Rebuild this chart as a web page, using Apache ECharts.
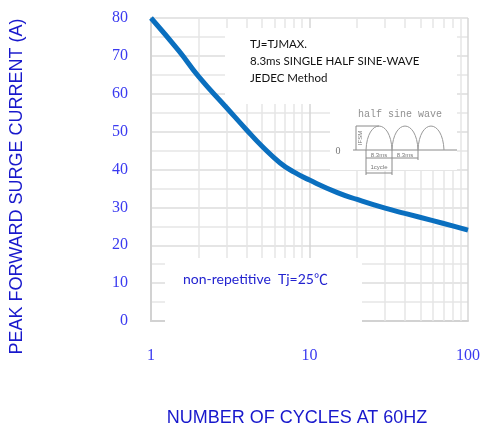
<!DOCTYPE html>
<html>
<head>
<meta charset="utf-8">
<script src="https://cdn.jsdelivr.net/npm/echarts@6/dist/echarts.min.js"></script>
<style>
  html,body{margin:0;padding:0;background:#fff;}
  #chart{width:483px;height:426px;}
</style>
</head>
<body>
<div id="chart"></div>
<script>
// cycles (log axis) and surge current
const cycles=[1,1.5,2,3,4,5,6.5,8,10,15,20,30,40,60,80,100]
const surgeCurrent=[80,71.3,64.5,56.3,50.5,46.2,41.8,39.3,37.2,33.9,32.1,29.8,28.4,26.5,25.1,24]
// minor log grid lines
const minorCycles=[2,3,4,5,6,7,8,9,20,30,40,50,60,70,80,90]

const chart=echarts.init(document.getElementById('chart'))

// inset "half sine wave" sketch
const inkColor='#8a8a8a'
const base=150, peak=126
const arches=[[366,392],[392,418],[418,444]]
const inset=[
  {type:'rect',shape:{x:225,y:28,width:232,height:76},style:{fill:'#fff'},z:2},
  {type:'rect',shape:{x:330,y:103,width:127,height:67},style:{fill:'#fff'},z:2},
  {type:'rect',shape:{x:165,y:258,width:197,height:65},style:{fill:'#fff'},z:2},
  {type:'text',x:250,y:36,z:11,style:{text:'TJ=TJMAX.\n8.3ms SINGLE HALF SINE-WAVE\nJEDEC Method',
    font:'11.5px Lato, "Liberation Sans", sans-serif',fill:'#111',lineHeight:17}},
  {type:'text',x:183,y:272,z:11,style:{text:'non-repetitive  Tj=25℃',
    font:'14px Lato, "Noto Sans CJK SC", sans-serif',fill:'#2323d0'}},
  {type:'text',x:400,y:114,z:11,style:{text:'half sine wave',align:'center',verticalAlign:'middle',
    font:'10px "Liberation Mono", "DejaVu Serif", serif',fill:'#909090'}},
  {type:'text',x:338,y:151,z:11,style:{text:'0',align:'center',verticalAlign:'middle',
    font:'10px "Liberation Serif", serif',fill:'#777'}},
  {type:'line',shape:{x1:353,y1:base,x2:457,y2:base},style:{stroke:inkColor,lineWidth:1},z:11},
  {type:'line',shape:{x1:356,y1:peak,x2:356,y2:base},style:{stroke:inkColor,lineWidth:1},z:11},
  {type:'line',shape:{x1:356,y1:peak,x2:379,y2:peak},style:{stroke:inkColor,lineWidth:1},z:11},
  {type:'text',x:360,y:138,rotation:Math.PI/2,z:11,style:{text:'IFSM',align:'center',verticalAlign:'middle',
    font:'6px "Liberation Sans", sans-serif',fill:'#777'}},
  {type:'line',shape:{x1:366,y1:base,x2:366,y2:175},style:{stroke:inkColor,lineWidth:1},z:11},
  {type:'line',shape:{x1:392,y1:base,x2:392,y2:175},style:{stroke:inkColor,lineWidth:1},z:11},
  {type:'line',shape:{x1:418,y1:base,x2:418,y2:160},style:{stroke:inkColor,lineWidth:1},z:11},
  {type:'line',shape:{x1:366,y1:158,x2:418,y2:158},style:{stroke:inkColor,lineWidth:1},z:11},
  {type:'text',x:379,y:155,z:11,style:{text:'8.3ms',align:'center',verticalAlign:'middle',
    font:'6px "Liberation Sans", sans-serif',fill:'#777'}},
  {type:'text',x:405,y:155,z:11,style:{text:'8.3ms',align:'center',verticalAlign:'middle',
    font:'6px "Liberation Sans", sans-serif',fill:'#777'}},
  {type:'line',shape:{x1:366,y1:173,x2:392,y2:173},style:{stroke:inkColor,lineWidth:1},z:11},
  {type:'text',x:379,y:167,z:11,style:{text:'1cycle',align:'center',verticalAlign:'middle',
    font:'6px "Liberation Sans", sans-serif',fill:'#777'}}
]
arches.forEach(a=>{
  const w=a[1]-a[0], h=base-peak
  inset.push({type:'bezierCurve',z:11,
    shape:{x1:a[0],y1:base,cpx1:a[0]+0.05*w,cpy1:base-1.33*h,cpx2:a[1]-0.05*w,cpy2:base-1.33*h,x2:a[1],y2:base},
    style:{stroke:'#999',lineWidth:1,fill:null}})
})

const option={
  animation:false,
  grid:{left:151,right:15,top:18,bottom:105,outerBoundsMode:'none',containLabel:false},
  xAxis:{
    type:'log',
    logBase:10,
    min:1,
    max:100,
    name:'NUMBER OF CYCLES AT 60HZ',
    nameLocation:'middle',
    nameGap:88,
    nameTextStyle:{color:'#1818cc',fontSize:18,fontFamily:'"Liberation Sans", Arial, sans-serif',padding:[0,25,0,0]},
    axisLine:{show:true,lineStyle:{color:'#d2d2d2',width:2}},
    axisTick:{show:false},
    axisLabel:{margin:27,color:'#3a3af0',fontSize:16,fontFamily:'"Liberation Serif", "Times New Roman", serif'},
    splitLine:{show:true,lineStyle:{color:'#d6d6d6',width:1.5}}
  },
  yAxis:{
    type:'value',
    min:0,
    max:80,
    interval:10,
    name:'PEAK FORWARD SURGE CURRENT (A)',
    nameLocation:'middle',
    nameGap:125,
    nameRotate:90,
    nameTextStyle:{color:'#1818cc',fontSize:18,fontFamily:'"Liberation Sans", Arial, sans-serif',padding:[0,34,0,0]},
    axisLine:{show:true,lineStyle:{color:'#d2d2d2',width:2}},
    axisTick:{show:false},
    axisLabel:{margin:23,color:'#3a3af0',fontSize:16,fontFamily:'"Liberation Serif", "Times New Roman", serif'},
    splitLine:{show:true,lineStyle:{color:'#dcdcdc',width:1.5}},
    minorTick:{show:false,splitNumber:2},
    minorSplitLine:{show:true,lineStyle:{color:'#e6e6e6',width:1.5}}
  },
  series:[
    {
      type:'line',
      data:cycles.map((c,i)=>[c,surgeCurrent[i]]),
      smooth:0.5,
      symbol:'none',
      lineStyle:{color:'#0a6fbf',width:5},
      z:5,
      markLine:{
        silent:true,
        symbol:'none',
        label:{show:false},
        lineStyle:{color:'#e6e6e6',width:1.5,type:'solid'},
        z:1,
        data:minorCycles.map(v=>({xAxis:v}))
      }
    }
  ],
  graphic:inset
}
chart.setOption(option)
</script>
</body>
</html>
